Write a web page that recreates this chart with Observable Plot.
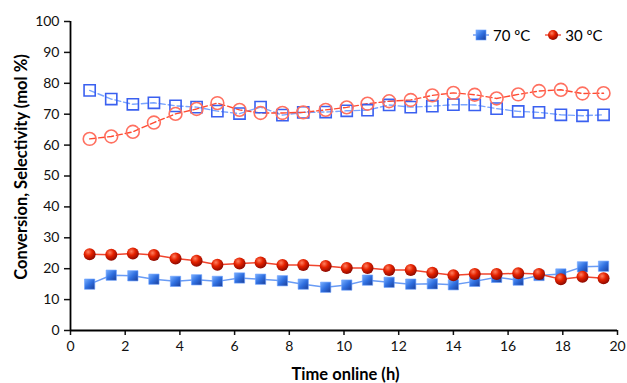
<!DOCTYPE html>
<html><head><meta charset="utf-8">
<script src="https://cdn.jsdelivr.net/npm/d3@7"></script>
<script src="https://cdn.jsdelivr.net/npm/@observablehq/plot@0.6"></script>
<style>
body{margin:0;background:#fff;font-family:Lato,"Open Sans",sans-serif;}
#wrap{position:relative;width:627px;height:383px;}
#wrap svg.plot{position:absolute;left:0;top:0;}
.ttl{position:absolute;font-weight:bold;font-size:16.5px;color:#000;white-space:nowrap;}
#xt{left:0;width:627px;text-align:center;top:364px;padding-left:64px;box-sizing:border-box;}
#yt{left:21px;top:167px;transform:translate(-50%,-50%) rotate(-90deg);}
#legend{position:absolute;top:26px;left:472px;font-size:15px;display:flex;align-items:center;}
#legend .it{display:flex;align-items:center;margin-right:14px;}
#legend svg{margin-right:3px;}
</style></head><body>
<svg width="0" height="0" style="position:absolute"><defs>
<radialGradient id="redBall" cx="38%" cy="32%" r="70%"><stop offset="0" stop-color="#ff8060"/><stop offset="0.45" stop-color="#e52200"/><stop offset="1" stop-color="#8a0800"/></radialGradient>
<linearGradient id="blueSq" x1="0" y1="0" x2="1" y2="1"><stop offset="0" stop-color="#79b0ff"/><stop offset="0.5" stop-color="#2f6fe0"/><stop offset="1" stop-color="#1a3d98"/></linearGradient>
</defs></svg>
<div id="wrap">
<div id="legend">
<div class="it"><svg width="18" height="14"><line x1="1" x2="17" y1="7" y2="7" stroke="#5b8ff0" stroke-width="1.3"/><rect x="4" y="2" width="10" height="10" fill="url(#blueSq)" stroke="#6aa0ff" stroke-width="0.6"/></svg><span>70 ºC</span></div>
<div class="it"><svg width="18" height="14"><line x1="1" x2="17" y1="7" y2="7" stroke="#f0402a" stroke-width="1.3"/><circle cx="9" cy="7" r="5" fill="url(#redBall)"/></svg><span>30 ºC</span></div>
</div>
<div class="ttl" id="xt">Time online (h)</div>
<div class="ttl" id="yt">Conversion, Selectivity (mol %)</div>
</div>
<script>
const time   = [0.70,1.49,2.28,3.05,3.84,4.61,5.37,6.18,6.95,7.75,8.51,9.33,10.10,10.86,11.65,12.44,13.23,14.00,14.78,15.58,16.37,17.13,17.93,18.72,19.49];
const conv70 = [15.0,17.9,17.7,16.6,15.9,16.4,15.9,17.0,16.6,16.1,15.0,14.0,14.7,16.3,15.6,15.0,15.1,14.8,15.9,17.2,16.3,17.8,18.3,20.6,20.8];
const conv30 = [24.7,24.5,24.9,24.4,23.3,22.6,21.3,21.7,22.0,21.2,21.2,20.9,20.2,20.2,19.6,19.6,18.7,17.9,18.3,18.3,18.5,18.3,16.6,17.4,16.9];
const sel70  = [77.7,74.9,73.2,73.7,72.7,72.3,71.0,70.2,72.3,69.7,70.6,70.7,71.1,71.3,73.0,72.3,72.6,73.1,73.0,71.8,70.9,70.6,69.8,69.5,69.8];
const sel30  = [62.0,62.8,64.3,67.3,70.1,71.7,73.6,71.4,70.4,70.4,70.6,71.4,72.2,73.4,74.2,74.6,76.1,76.9,76.3,75.1,76.4,77.5,77.9,76.7,76.8];
const xTicks = d3.range(0, 21, 2);
const yTicks = d3.range(0, 101, 10);

const data = time.map((t, i) => ({time: t, conv70: conv70[i], conv30: conv30[i], sel70: sel70[i], sel30: sel30[i]}));

const chart = Plot.plot({
  width: 627, height: 383,
  marginLeft: 70, marginRight: 10, marginTop: 21, marginBottom: 53,
  x: {domain: [0, 20]},
  y: {domain: [0, 100]},
  style: {fontFamily: "Lato, 'Open Sans', sans-serif", fontSize: "14px", color: "#111", background: "transparent"},
  marks: [
    Plot.axisX({ticks: xTicks, tickSize: 5, tickPadding: 6, label: null, strokeWidth: 1.5, fontSize: 14}),
    Plot.axisY({ticks: yTicks, tickSize: 6, tickPadding: 5, label: null, strokeWidth: 1.5, fontSize: 14}),
    Plot.ruleY([0], {stroke: "#000", strokeWidth: 1.8}),
    Plot.ruleX([0], {stroke: "#000", strokeWidth: 1.8}),
    Plot.line(data, {x: "time", y: "sel70", stroke: "#7aa5ff", strokeWidth: 1.4, strokeDasharray: "6,3"}),
    Plot.line(data, {x: "time", y: "sel30", stroke: "#ff4a30", strokeWidth: 1.4, strokeDasharray: "6,3"}),
    Plot.dot(data, {x: "time", y: "sel70", symbol: "square", r: 6.3, fill: "none", stroke: "#3a60f0", strokeWidth: 1.6}),
    Plot.dot(data, {x: "time", y: "sel30", symbol: "circle", r: 6.4, fill: "none", stroke: "#ff7060", strokeWidth: 1.6}),
    Plot.line(data, {x: "time", y: "conv70", stroke: "#6a9cf5", strokeWidth: 1.5}),
    Plot.line(data, {x: "time", y: "conv30", stroke: "#f0452e", strokeWidth: 1.5}),
    Plot.dot(data, {x: "time", y: "conv70", symbol: "square", r: 5.8, fill: "url(#blueSq)", stroke: "#6aa0ff", strokeWidth: 0.6}),
    Plot.dot(data, {x: "time", y: "conv30", symbol: "circle", r: 6, fill: "url(#redBall)", stroke: "none"})
  ]
});
chart.classList.add("plot");
document.getElementById("wrap").prepend(chart);
</script>
</body></html>
